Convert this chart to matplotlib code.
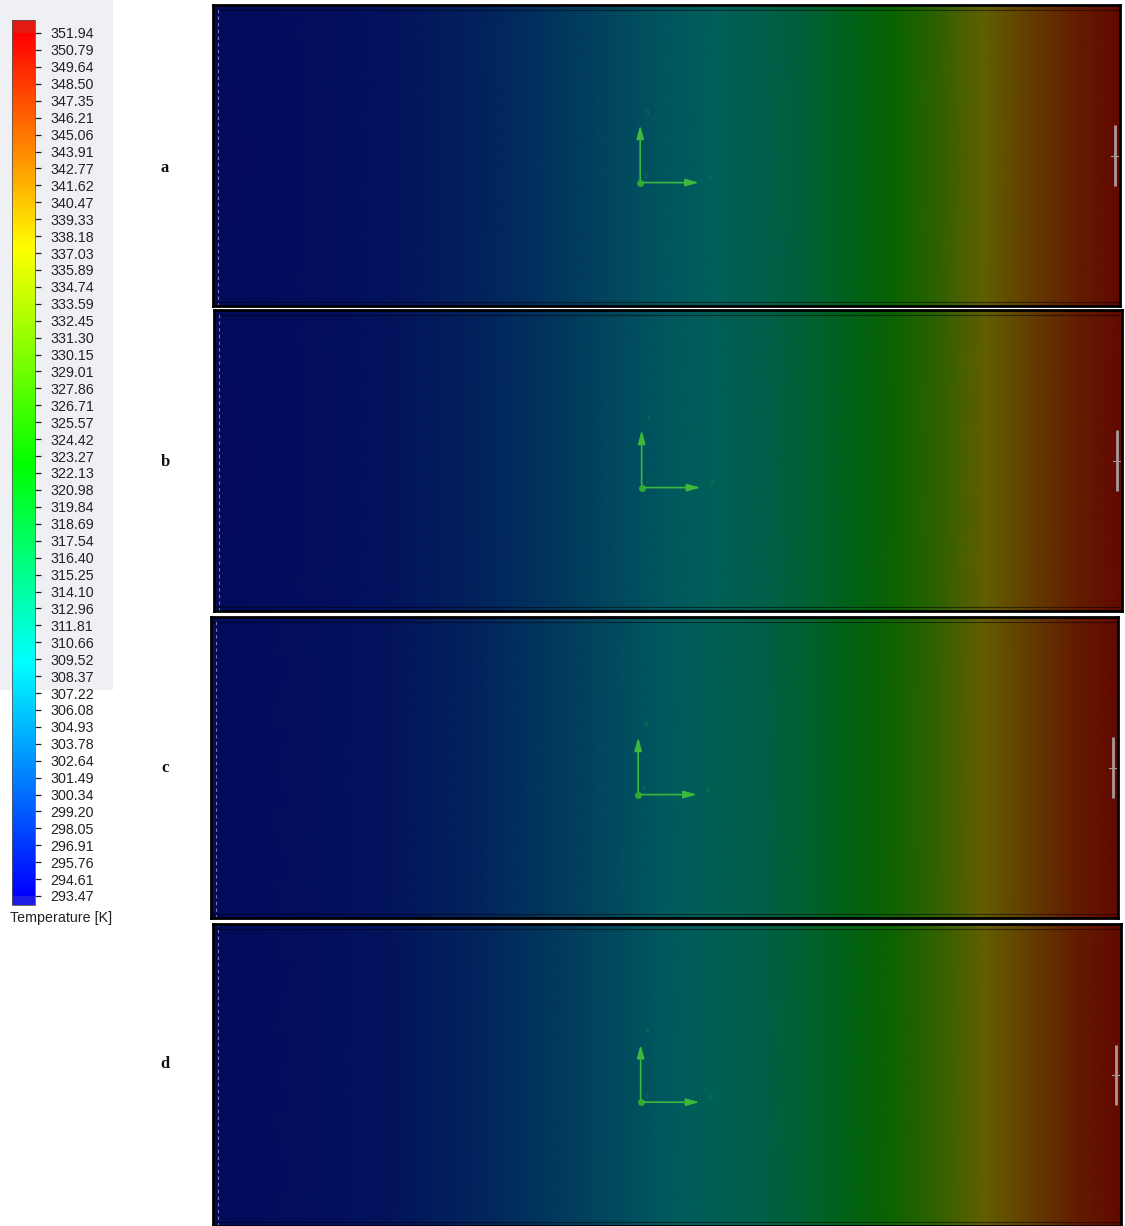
import numpy as np
import matplotlib
matplotlib.use("Agg")
import matplotlib.pyplot as plt
from matplotlib.colors import LinearSegmentedColormap, Normalize
from matplotlib.cm import ScalarMappable
from matplotlib.patches import Rectangle

# ---------------- data ----------------
tick_values = [351.94, 350.79, 349.64, 348.50, 347.35, 346.21, 345.06, 343.91,
               342.77, 341.62, 340.47, 339.33, 338.18, 337.03, 335.89, 334.74,
               333.59, 332.45, 331.30, 330.15, 329.01, 327.86, 326.71, 325.57,
               324.42, 323.27, 322.13, 320.98, 319.84, 318.69, 317.54, 316.40,
               315.25, 314.10, 312.96, 311.81, 310.66, 309.52, 308.37, 307.22,
               306.08, 304.93, 303.78, 302.64, 301.49, 300.34, 299.20, 298.05,
               296.91, 295.76, 294.61, 293.47]
t_min, t_max = 293.47, 351.94
cbar_label = "Temperature [K]"

panel_labels = ["a", "b", "c", "d"]
# normalised position along each panel (left -> right)
x_pos = [0.00, 0.10, 0.20, 0.30, 0.40, 0.45, 0.50, 0.55, 0.60, 0.65, 0.70,
         0.75, 0.80, 0.85, 0.90, 0.95, 1.00]
T_a = [293.5, 294.1, 295.2, 298.1, 302.8, 305.2, 307.8, 309.8, 311.6, 314.5,
       318.6, 323.9, 329.7, 336.7, 342.6, 347.8, 351.4]
T_b = [293.5, 294.1, 295.3, 298.3, 303.0, 305.5, 308.1, 310.1, 312.0, 315.0,
       319.2, 324.4, 330.0, 336.9, 342.7, 347.9, 351.4]
T_c = [293.5, 294.2, 295.4, 298.5, 303.3, 305.8, 308.4, 310.4, 312.4, 315.5,
       319.7, 324.8, 330.3, 337.1, 342.8, 347.9, 351.4]
T_d = [293.5, 294.2, 295.4, 298.5, 303.3, 305.8, 308.4, 310.4, 312.4, 315.5,
       319.7, 324.8, 330.3, 337.1, 342.8, 347.9, 351.4]
panel_T = [T_a, T_b, T_c, T_d]

# ---------------- layout (pixels) ----------------
W, H = 1125, 1226
panel_boxes = [(213, 5, 1120, 306), (214, 310, 1122, 611),
               (211, 617, 1118, 918), (213, 924, 1121, 1226)]
label_y = [168, 462, 768, 1064]

fig = plt.figure(figsize=(W / 100, H / 100), dpi=100)
fig.patch.set_facecolor("white")


def px_axes(x0, y0, x1, y1, **kw):
    return fig.add_axes([x0 / W, 1 - y1 / H, (x1 - x0) / W, (y1 - y0) / H], **kw)


# light legend background
bg = Rectangle((0, 1 - 690 / H), 113 / W, 690 / H, transform=fig.transFigure,
               facecolor="#eef0f4", edgecolor="none", zorder=-10)
fig.patches.append(bg)

# colormap: blue -> cyan -> green -> yellow -> red
nodes = [(0.0, (0.0, 0.0, 1.0)), (0.27, (0.0, 1.0, 1.0)), (0.50, (0.0, 1.0, 0.0)),
         (0.75, (1.0, 1.0, 0.0)), (1.0, (1.0, 0.0, 0.0))]
cmap = LinearSegmentedColormap.from_list("fluent", nodes)
cmap.set_over("#e21a10")
cmap.set_under("#1c1ce6")
# shaded (lit) version used on the contour planes
dark_nodes = [(0.0, (0.01, 0.04, 0.36)), (0.27, (0.0, 0.37, 0.37)),
              (0.50, (0.0, 0.39, 0.0)), (0.75, (0.39, 0.37, 0.0)),
              (1.0, (0.39, 0.02, 0.0))]
dark_cmap = LinearSegmentedColormap.from_list("fluent_dark", dark_nodes)
norm = Normalize(vmin=t_min, vmax=t_max)

# ---------------- colorbar ----------------
interior = 896 - 33
cax = px_axes(12, 20, 35, 905)
cb = fig.colorbar(ScalarMappable(norm=norm, cmap=cmap), cax=cax,
                  extend="both", extendrect=True,
                  extendfrac=[9 / interior, 13 / interior])
cb.set_ticks(tick_values)
cb.set_ticklabels([f"{v:.2f}" for v in tick_values])
cb.outline.set_linewidth(0.6)
cb.outline.set_edgecolor("#555555")
cax.tick_params(axis="y", direction="out", length=4, width=0.9, pad=7,
                colors="#222222", labelsize=10.3)
for lab in cax.get_yticklabels():
    lab.set_fontfamily("Liberation Sans")
fig.text(10 / W, 1 - 918 / H, cbar_label, fontsize=10.3, family="Liberation Sans",
         color="#222222", va="center", ha="left")

# ---------------- panels ----------------
for (x0, y0, x1, y1), T, lab, ly in zip(panel_boxes, panel_T, panel_labels, label_y):
    ax = px_axes(x0, y0, x1, y1)
    Z = np.vstack([T, T])
    ax.pcolormesh(x_pos, [0, 1], Z, cmap=dark_cmap, norm=norm, shading="gouraud")
    ax.set_xlim(0, 1)
    ax.set_ylim(0, 1)
    ax.set_xticks([])
    ax.set_yticks([])
    for s in ax.spines.values():
        s.set_linewidth(2.0)
        s.set_color("black")
    ax.axhline(0.985, color="black", lw=0.8, alpha=0.5)
    ax.axhline(0.012, color="black", lw=0.8, alpha=0.5)
    ax.axvline(0.006, color="#b0b0c0", lw=0.8, ls=(0, (3, 3)), alpha=0.7)
    ax.plot([0.994, 0.994], [0.40, 0.60], color="#a89a9a", lw=2.0, solid_capstyle="butt")
    ax.plot([0.990, 0.998], [0.50, 0.50], color="#a89a9a", lw=0.8)
    # axis triad
    ox, oy = 0.471, 0.41
    ax.annotate("", xy=(ox, oy + 0.20), xytext=(ox, oy),
                arrowprops=dict(arrowstyle="-|>,head_length=0.8,head_width=0.22",
                                color="#3cb83c", lw=1.2))
    ax.annotate("", xy=(ox + 0.068, oy), xytext=(ox, oy),
                arrowprops=dict(arrowstyle="-|>,head_length=0.8,head_width=0.22",
                                color="#3cb83c", lw=1.2))
    ax.plot([ox], [oy], marker="o", ms=4, color="#2faa2f")
    ax.text(ox + 0.005, oy + 0.225, "Y", fontsize=5, color="#1f7a3a")
    ax.text(ox + 0.075, oy + 0.01, "X", fontsize=5, color="#1f7a3a")
    ax.text(ox + 0.004, oy + 0.015, "Z", fontsize=4, color="#1f7a3a")
    fig.text(165 / W, 1 - ly / H, lab, fontsize=12, fontweight="bold",
             family="Liberation Serif", ha="center", va="center", color="#111111")

fig.savefig("out.png", dpi=100, facecolor="white")
